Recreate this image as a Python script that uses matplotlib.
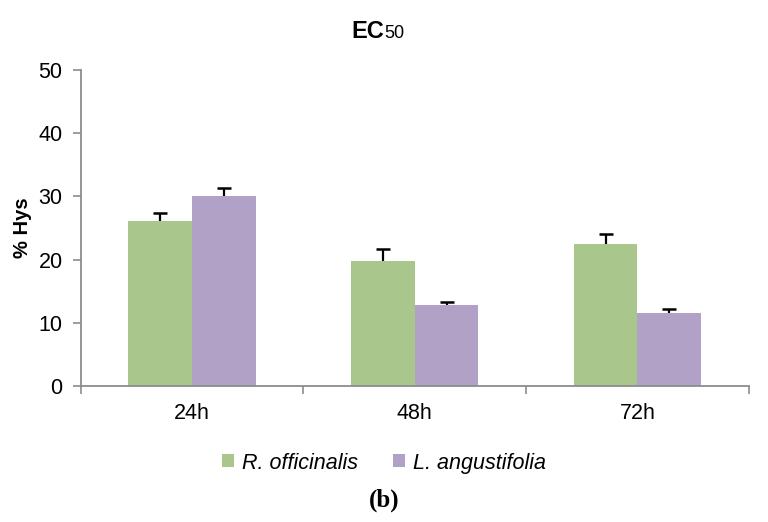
import numpy as np
import matplotlib
matplotlib.use("Agg")
import matplotlib.pyplot as plt

plt.rcParams['font.family'] = ['Liberation Sans', 'DejaVu Sans']

# data
times = ['24h', '48h', '72h']
rosmarinus = [26.1, 19.8, 22.5]
rosmarinus_err = [1.3, 1.8, 1.5]
lavandula = [30.1, 12.8, 11.6]
lavandula_err = [1.3, 0.45, 0.65]

green = '#A9C78C'
purple = '#B2A1C6'
axis_gray = '#8C8C8C'

fig = plt.figure(figsize=(7.68, 5.22), dpi=100)
ax = fig.add_axes([0.105, 0.2605, 0.87, 0.6055])

x = np.arange(len(times))
w = 0.286
series = [(rosmarinus, rosmarinus_err, green, 'R. officinalis', -w / 2),
          (lavandula, lavandula_err, purple, 'L. angustifolia', w / 2)]
for vals, err, col, lab, off in series:
    ax.bar(x + off, vals, w, color=col, label=lab)
    # upper error bars only
    tops = np.array(vals) + np.array(err)
    ax.vlines(x + off, vals, tops, color='black', lw=1.6, zorder=3)
    ax.plot(x + off, tops, ls='none', marker='_', ms=10, mew=1.8, color='black', zorder=3)

ax.set_xlim(-0.5, 2.5)
ax.set_ylim(0, 50)
ax.set_yticks([0, 10, 20, 30, 40, 50])

# category boundary ticks, labels at centers
ax.set_xticks([-0.5, 0.5, 1.5, 2.5])
ax.set_xticklabels([])
ax.set_xticks(x, minor=True)
ax.set_xticklabels(times, minor=True)
ax.tick_params(axis='x', which='major', length=6, color=axis_gray, width=1.2)
ax.tick_params(axis='x', which='minor', length=0, labelsize=15.5, pad=12)
ax.tick_params(axis='y', length=6, color=axis_gray, width=1.2, labelsize=15.5, pad=7)

for s in ['top', 'right']:
    ax.spines[s].set_visible(False)
for s in ['left', 'bottom']:
    ax.spines[s].set_color(axis_gray)
    ax.spines[s].set_linewidth(1.3)

ax.set_ylabel('% Hys', fontsize=14.5, fontweight='bold', labelpad=5)

# title "EC50" with the small 50
fig.text(0.5, 0.94, 'EC', fontsize=17, fontweight='bold', ha='right', va='center')
fig.text(0.5, 0.936, '50', fontsize=13, ha='left', va='center')

leg = fig.legend(loc='center', bbox_to_anchor=(0.5, 0.113), ncol=2, frameon=False,
                 prop={'size': 15.5, 'style': 'italic'}, handlelength=0.55, handleheight=0.55,
                 handletextpad=0.4, columnspacing=1.6)

fig.text(0.5, 0.042, '(b)', fontsize=18, fontweight='bold', family='Liberation Serif',
         ha='center', va='center')

fig.savefig('out.png', dpi=100)
